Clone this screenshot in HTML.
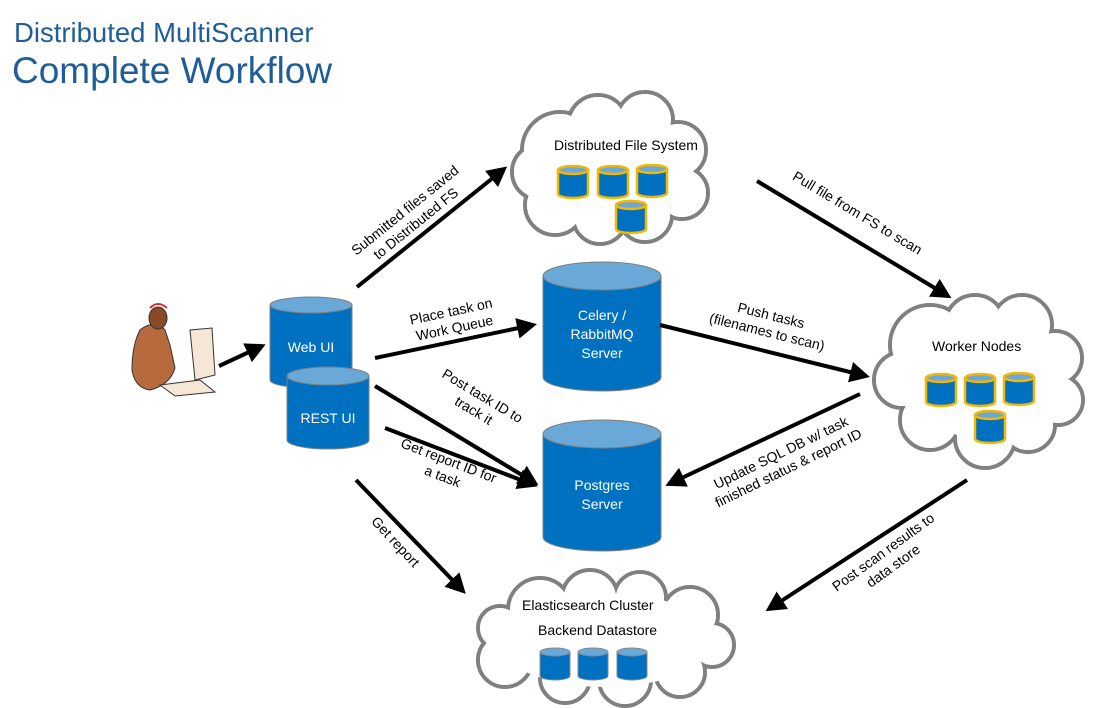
<!DOCTYPE html>
<html><head><meta charset="utf-8"><style>
html,body{margin:0;padding:0;background:#fff;width:1116px;height:708px;overflow:hidden}
svg text{font-family:"Liberation Sans",sans-serif}
</style></head><body>
<svg width="1116" height="708" viewBox="0 0 1116 708" xmlns="http://www.w3.org/2000/svg">
<defs>
<marker id="ah" markerWidth="6" markerHeight="6" refX="4" refY="3" orient="auto" markerUnits="strokeWidth">
<path d="M0,0.4 L5,3 L0,5.6 z" fill="#000"/></marker>
<g id="sc"><path d="M-15,-12 L-15,12 A15,4 0 0 0 15,12 L15,-12" fill="#0070c0" stroke="#f5b800" stroke-width="2.5"/><ellipse cx="0" cy="-12" rx="15" ry="4" fill="#6aa8d8" stroke="#f5b800" stroke-width="2.5"/></g>
<g id="sg"><path d="M-15,-12 L-15,12 A15,4 0 0 0 15,12 L15,-12" fill="#0070c0" stroke="#888" stroke-width="1"/><ellipse cx="0" cy="-12" rx="15" ry="4" fill="#6aa8d8" stroke="#888" stroke-width="1"/></g>
</defs>
<text x="14" y="42" font-size="27.5" fill="#1f5d9a">Distributed MultiScanner</text>
<text x="12" y="83" font-size="37" fill="#1f5d9a">Complete Workflow</text>

<!-- DFS cloud -->
<g stroke="#808080" stroke-width="4" fill="#fff">
<circle cx="560" cy="150" r="38"/><circle cx="598" cy="125" r="30"/><circle cx="645" cy="120" r="28"/><circle cx="678" cy="150" r="28"/><circle cx="682" cy="193" r="26"/><circle cx="645" cy="215" r="27"/><circle cx="600" cy="217" r="27"/><circle cx="555" cy="205" r="30"/><circle cx="540" cy="172" r="28"/>
</g>
<g fill="#fff"><circle cx="560" cy="150" r="36"/><circle cx="598" cy="125" r="28"/><circle cx="645" cy="120" r="26"/><circle cx="678" cy="150" r="26"/><circle cx="682" cy="193" r="24"/><circle cx="645" cy="215" r="25"/><circle cx="600" cy="217" r="25"/><circle cx="555" cy="205" r="28"/><circle cx="540" cy="172" r="26"/><circle cx="615" cy="170" r="58"/></g>
<text x="554" y="150" font-size="14">Distributed File System</text>
<use href="#sc" x="573" y="182"/><use href="#sc" x="613" y="182"/><use href="#sc" x="652" y="181"/><use href="#sc" x="631" y="217"/>

<!-- Worker cloud -->
<g stroke="#808080" stroke-width="4" fill="#fff">
<circle cx="930" cy="345" r="40"/><circle cx="975" cy="325" r="30"/><circle cx="1022" cy="325" r="30"/><circle cx="1055" cy="358" r="27"/><circle cx="1058" cy="400" r="25"/><circle cx="1028" cy="425" r="27"/><circle cx="985" cy="438" r="30"/><circle cx="930" cy="420" r="30"/><circle cx="902" cy="380" r="28"/>
</g>
<g fill="#fff"><circle cx="930" cy="345" r="38"/><circle cx="975" cy="325" r="28"/><circle cx="1022" cy="325" r="28"/><circle cx="1055" cy="358" r="25"/><circle cx="1058" cy="400" r="23"/><circle cx="1028" cy="425" r="25"/><circle cx="985" cy="438" r="28"/><circle cx="930" cy="420" r="28"/><circle cx="902" cy="380" r="26"/><circle cx="985" cy="380" r="62"/><circle cx="1030" cy="375" r="35"/></g>
<text x="932" y="351" font-size="14">Worker Nodes</text>
<use href="#sc" x="941" y="390"/><use href="#sc" x="980" y="390"/><use href="#sc" x="1019" y="389"/><use href="#sc" x="990" y="427"/>

<!-- ES cloud -->
<g stroke="#808080" stroke-width="4" fill="#fff">
<circle cx="540" cy="610" r="32"/><circle cx="590" cy="598" r="28"/><circle cx="640" cy="598" r="26"/><circle cx="690" cy="615" r="28"/><circle cx="712" cy="645" r="22"/><circle cx="680" cy="672" r="25"/><circle cx="625" cy="680" r="26"/><circle cx="565" cy="678" r="25"/><circle cx="505" cy="660" r="27"/><circle cx="500" cy="628" r="22"/>
</g>
<g fill="#fff"><circle cx="540" cy="610" r="30"/><circle cx="590" cy="598" r="26"/><circle cx="640" cy="598" r="24"/><circle cx="690" cy="615" r="26"/><circle cx="712" cy="645" r="20"/><circle cx="680" cy="672" r="23"/><circle cx="625" cy="680" r="24"/><circle cx="565" cy="678" r="23"/><circle cx="505" cy="660" r="25"/><circle cx="500" cy="628" r="20"/><ellipse cx="605" cy="640" rx="108" ry="47"/></g>
<text x="522" y="610" font-size="14">Elasticsearch Cluster</text>
<text x="538" y="635" font-size="14">Backend Datastore</text>
<use href="#sg" x="555" y="664"/><use href="#sg" x="593" y="664"/><use href="#sg" x="632" y="664"/>

<!-- big cylinders -->
<g stroke="#7f7f7f" stroke-width="1">
<path d="M270,305 L270,380 A41,8 0 0 0 352,380 L352,305" fill="#0070c0"/><ellipse cx="311" cy="305" rx="41" ry="8" fill="#6aa8d8"/>
<path d="M287,376 L287,440 A41,9 0 0 0 369,440 L369,376" fill="#0070c0"/><ellipse cx="328" cy="376" rx="41" ry="9" fill="#6aa8d8"/>
<path d="M543,276 L543,377 A59,14 0 0 0 661,377 L661,276" fill="#0070c0"/><ellipse cx="602" cy="276" rx="59" ry="14" fill="#6aa8d8"/>
<path d="M543,434 L543,537 A59,14 0 0 0 661,537 L661,434" fill="#0070c0"/><ellipse cx="602" cy="434" rx="59" ry="14" fill="#6aa8d8"/>
</g>
<g fill="#fff" font-size="14" text-anchor="middle">
<text x="311" y="352">Web UI</text><text x="328" y="423">REST UI</text>
<text x="602" y="320">Celery /</text><text x="602" y="339">RabbitMQ</text><text x="602" y="358">Server</text>
<text x="602" y="490">Postgres</text><text x="602" y="509">Server</text>
</g>

<!-- user icon -->
<g>
<path d="M140,330 Q150,322 160,325 L165,330 L170,345 L175,368 Q170,385 150,390 Q135,388 132,370 Q132,345 140,330z" fill="#b76a3c" stroke="#333" stroke-width="1"/>
<ellipse cx="158" cy="318" rx="9" ry="11" fill="#8a4a28" stroke="#333"/>
<path d="M150,308 Q158,300 167,308" fill="none" stroke="#c33" stroke-width="2"/>
<path d="M190,330 L212,328 L215,375 L195,380z" fill="#f5e6d6" stroke="#333" stroke-width="1"/>
<path d="M160,385 L200,380 L215,392 L175,396z" fill="#f5e6d6" stroke="#333" stroke-width="1"/>
</g>

<!-- arrows -->
<g stroke="#000" stroke-width="4" marker-end="url(#ah)" fill="none">
<line x1="219" y1="366" x2="262" y2="346"/>
<line x1="357" y1="287" x2="504" y2="169"/>
<line x1="375" y1="358" x2="533" y2="325"/>
<line x1="375" y1="386" x2="535" y2="483"/>
<line x1="385" y1="428" x2="534" y2="485"/>
<line x1="356" y1="480" x2="463" y2="591"/>
<line x1="757" y1="181" x2="948" y2="296"/>
<line x1="660" y1="325" x2="866" y2="376"/>
<line x1="860" y1="394" x2="669" y2="484"/>
<line x1="967" y1="480" x2="769" y2="609"/>
</g>

<g font-size="14" fill="#000" text-anchor="middle">
<g transform="translate(408,214) rotate(-39)"><text y="0">Submitted files saved</text><text y="17">to Distributed FS</text></g>
<g transform="translate(452,316) rotate(-12)"><text y="0">Place task on</text><text y="17">Work Queue</text></g>
<g transform="translate(480,400) rotate(31)"><text y="0">Post task ID to</text><text y="17">track it</text></g>
<g transform="translate(447,465) rotate(21)"><text y="0">Get report ID for</text><text y="17">a task</text></g>
<g transform="translate(392,545) rotate(47)"><text y="0">Get report</text></g>
<g transform="translate(855,217) rotate(31)"><text y="0">Pull file from FS to scan</text></g>
<g transform="translate(770,320) rotate(14)"><text y="0">Push tasks</text><text y="17">(filenames to scan)</text></g>
<g transform="translate(783,457) rotate(-26)"><text y="0">Update SQL DB w/ task</text><text y="17">finished status &amp; report ID</text></g>
<g transform="translate(886,556) rotate(-36)"><text y="0">Post scan results to</text><text y="17">data store</text></g>
</g>
</svg>
</body></html>
